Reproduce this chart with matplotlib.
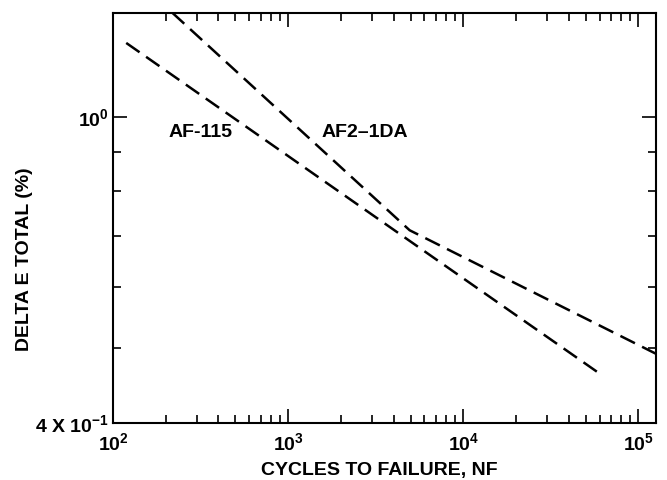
"""
Strain-life curves: total strain range vs cycles to failure (log-log).
"""
import matplotlib
matplotlib.use("Agg")
import matplotlib.pyplot as plt
from matplotlib.ticker import FixedLocator, NullFormatter, LogLocator

plt.rcParams["font.family"] = ["Liberation Sans", "DejaVu Sans"]
plt.rcParams["font.weight"] = "bold"
plt.rcParams["mathtext.fontset"] = "custom"
plt.rcParams["mathtext.rm"] = "Liberation Sans:bold"
plt.rcParams["mathtext.it"] = "Liberation Sans:bold"

# data
af115_cycles = [119, 58200]
af115_strain = [1.247, 0.466]

af21da_cycles = [218, 4940, 126000]
af21da_strain = [1.365, 0.712, 0.492]

x_limits = (100, 126000)
y_limits = (0.4, 1.365)
x_major = [1e2, 1e3, 1e4, 1e5]
x_major_labels = [r"$\mathregular{10^2}$", r"$\mathregular{10^3}$",
                  r"$\mathregular{10^4}$", r"$\mathregular{10^5}$"]
y_major = [0.4, 1.0]
y_major_labels = [r"4 X $\mathregular{10^{-1}}$", r"$\mathregular{10^0}$"]
y_minor = [0.5, 0.6, 0.7, 0.8, 0.9]

fig = plt.figure(figsize=(6.67, 4.8), dpi=100)
ax = fig.add_axes([0.1694, 0.1188, 0.8141, 0.8547])

dash = (0, (6.5, 3.2))
ax.plot(af115_cycles, af115_strain, color="black", lw=1.8, linestyle=dash)
ax.plot(af21da_cycles, af21da_strain, color="black", lw=1.8, linestyle=dash)

ax.set_xscale("log")
ax.set_yscale("log")
ax.set_xlim(*x_limits)
ax.set_ylim(*y_limits)

ax.xaxis.set_major_locator(FixedLocator(x_major))
ax.xaxis.set_minor_locator(LogLocator(base=10, subs=range(2, 10)))
ax.set_xticklabels(x_major_labels)
ax.xaxis.set_minor_formatter(NullFormatter())

ax.yaxis.set_major_locator(FixedLocator(y_major))
ax.yaxis.set_minor_locator(FixedLocator(y_minor))
ax.set_yticklabels(y_major_labels)
ax.yaxis.set_minor_formatter(NullFormatter())

ax.tick_params(which="both", direction="in", top=True, right=True, width=1.2,
               labelsize=14)
ax.tick_params(which="major", length=10, pad=3)
ax.tick_params(which="minor", length=6)
ax.tick_params(axis="x", which="major", pad=7)

for spine in ax.spines.values():
    spine.set_linewidth(1.5)

ax.set_xlabel("CYCLES TO FAILURE, NF", fontsize=14, fontweight="bold")
ax.xaxis.set_label_coords(0.49, -0.095)
ax.set_ylabel("DELTA E TOTAL (%)", fontsize=14, fontweight="bold")
ax.yaxis.set_label_coords(-0.148, 0.40)

ax.text(315, 0.955, "AF-115", fontsize=14, fontweight="bold", ha="center", va="center")
ax.text(2730, 0.955, "AF2\u20131DA", fontsize=14, fontweight="bold", ha="center", va="center")

fig.savefig("out.png", dpi=100)
